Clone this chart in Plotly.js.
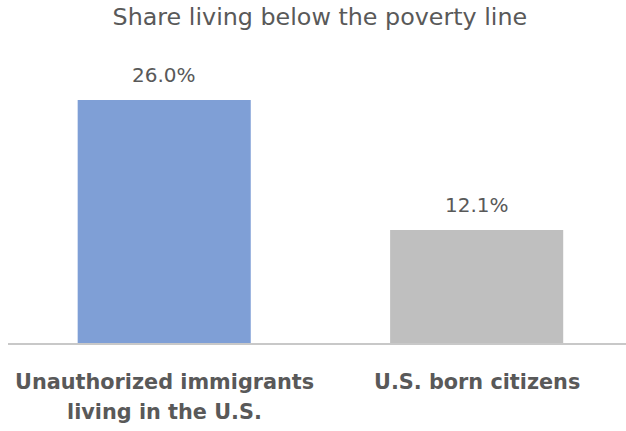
<!DOCTYPE html>
<html>
<head>
<meta charset="utf-8">
<script src="https://cdn.plot.ly/plotly-3.0.1.min.js"></script>
<style>html,body{margin:0;padding:0;background:#fff;}#chart{width:626px;height:431px;}</style>
</head>
<body>
<div id="chart"></div>
<script>
const categories = ["Unauthorized immigrants<br>living in the U.S.", "U.S. born citizens"];
const values = [26.0, 12.1];
const valueLabels = ["26.0%", "12.1%"];
const barColors = ["#7F9FD6", "#BFBFBF"];

const font = "'DejaVu Sans', sans-serif";
const textColor = "#595959";
const trace = {
  type: "bar",
  x: categories,
  y: values,
  marker: {color: barColors},
  width: 0.554,
  hoverinfo: "none"
};
const annotations = categories.map((c, i) => ({
  x: c, y: values[i], xref: "x", yref: "y",
  text: valueLabels[i], showarrow: false, yshift: 25,
  font: {family: font, size: 20, color: textColor}
}));
// category labels, one annotation per line for Excel-like line spacing
const lineY = [-0.1378, -0.2438];
categories.forEach((c) => {
  c.split("<br>").forEach((line, j) => {
    annotations.push({
      x: c, xref: "x", y: lineY[j], yref: "paper", yanchor: "middle",
      text: line, showarrow: false,
      font: {family: font, size: 20.8, color: textColor, weight: "bold"}
    });
  });
});
const layout = {
  width: 626, height: 431,
  margin: {l: 8, r: 0, t: 60, b: 88},
  paper_bgcolor: "#fff", plot_bgcolor: "#fff",
  title: {text: "Share living below the poverty line", x: 0.511, xanchor: "center", y: 0.962, yanchor: "middle",
          font: {family: font, size: 23.8, color: textColor}},
  xaxis: {type: "category", range: [-0.5, 1.478], showline: true, linecolor: "#C8C8C8", linewidth: 2,
          showticklabels: false, ticks: ""},
  yaxis: {range: [0, 30.28], showgrid: false, zeroline: false, showticklabels: false, showline: false},
  annotations: annotations,
  showlegend: false
};
Plotly.newPlot("chart", [trace], layout, {displayModeBar: false, staticPlot: true});
</script>
</body>
</html>
